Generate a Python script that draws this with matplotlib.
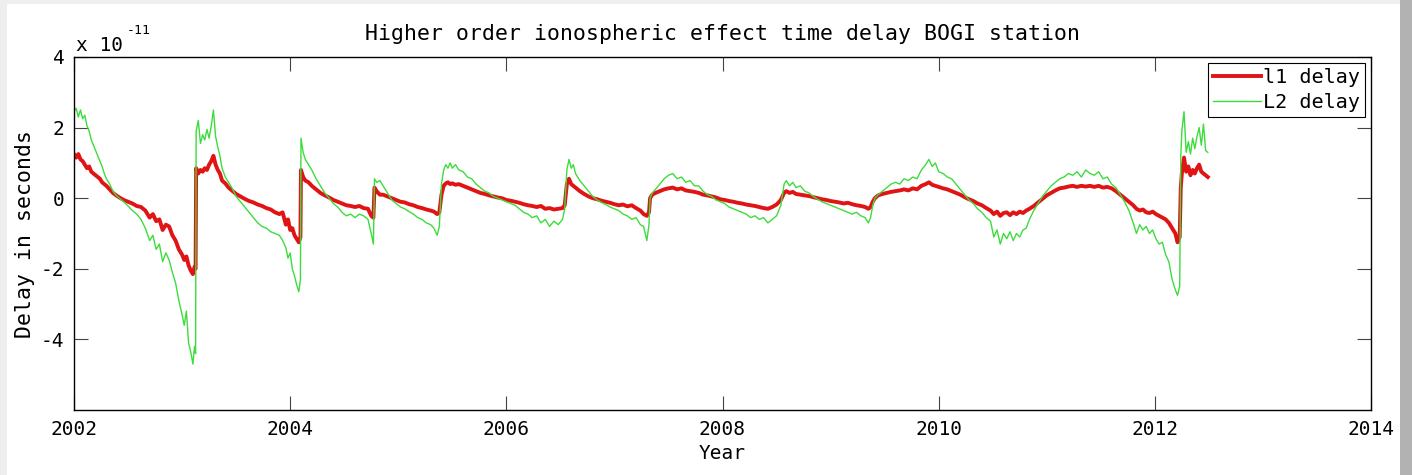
import numpy as np
import matplotlib
matplotlib.use("Agg")
import matplotlib.pyplot as plt
from matplotlib.patches import Rectangle

# values (delay in units of 1e-11 s)
year = [
    2002.00, 2002.02, 2002.04, 2002.06, 2002.08, 2002.10, 2002.12, 2002.14, 2002.16, 2002.18,
    2002.20, 2002.22, 2002.24, 2002.26, 2002.28, 2002.30, 2002.33, 2002.36, 2002.39, 2002.42,
    2002.46, 2002.50, 2002.54, 2002.58, 2002.62, 2002.66, 2002.70, 2002.73, 2002.76, 2002.79,
    2002.82, 2002.85, 2002.88, 2002.91, 2002.94, 2002.97, 2003.00, 2003.02, 2003.04, 2003.06,
    2003.08, 2003.10, 2003.115, 2003.125,
    2003.13, 2003.15, 2003.17, 2003.19, 2003.21, 2003.23, 2003.25, 2003.27, 2003.29, 2003.31,
    2003.33, 2003.35, 2003.37, 2003.40, 2003.43, 2003.46, 2003.50, 2003.54, 2003.58, 2003.62,
    2003.66, 2003.70, 2003.74, 2003.78, 2003.82, 2003.86, 2003.90, 2003.93, 2003.96, 2003.98,
    2004.00, 2004.02, 2004.04, 2004.06, 2004.08, 2004.095,
    2004.10, 2004.12, 2004.14, 2004.17, 2004.20, 2004.24, 2004.28, 2004.32, 2004.36, 2004.40,
    2004.44, 2004.48, 2004.52, 2004.56, 2004.60, 2004.64, 2004.68, 2004.72, 2004.75, 2004.77,
    2004.78, 2004.80, 2004.83, 2004.86, 2004.90, 2004.94, 2004.98, 2005.02, 2005.06, 2005.10,
    2005.14, 2005.18, 2005.22, 2005.26, 2005.30, 2005.33, 2005.36,
    2005.38, 2005.40, 2005.42, 2005.44,
    2005.46, 2005.48, 2005.50, 2005.53, 2005.56, 2005.60, 2005.64, 2005.68, 2005.72, 2005.76,
    2005.80, 2005.84, 2005.88, 2005.92, 2005.96, 2006.00, 2006.04, 2006.08, 2006.12, 2006.16,
    2006.20, 2006.24, 2006.28, 2006.32, 2006.36, 2006.40, 2006.44, 2006.48, 2006.52, 2006.54,
    2006.56, 2006.58, 2006.60, 2006.62, 2006.64, 2006.68, 2006.72, 2006.76, 2006.80, 2006.84,
    2006.88, 2006.92, 2006.96, 2007.00, 2007.04, 2007.08, 2007.12, 2007.16, 2007.20, 2007.24,
    2007.27, 2007.30, 2007.32,
    2007.33, 2007.35, 2007.38, 2007.42, 2007.46, 2007.50, 2007.54, 2007.58, 2007.62, 2007.66,
    2007.70, 2007.74, 2007.78, 2007.82, 2007.86, 2007.90, 2007.94, 2007.98, 2008.02, 2008.06,
    2008.10, 2008.14, 2008.18, 2008.22, 2008.26, 2008.30, 2008.34, 2008.38, 2008.42, 2008.46,
    2008.50, 2008.54,
    2008.57, 2008.59, 2008.62, 2008.65, 2008.68, 2008.72, 2008.76, 2008.80, 2008.84, 2008.88,
    2008.92, 2008.96, 2009.00, 2009.04, 2009.08, 2009.12, 2009.16, 2009.20, 2009.24, 2009.28,
    2009.32, 2009.35, 2009.37, 2009.39, 2009.41, 2009.44,
    2009.48, 2009.52, 2009.56, 2009.60, 2009.64, 2009.68, 2009.72, 2009.76, 2009.80, 2009.84,
    2009.88, 2009.91, 2009.94, 2009.97, 2010.00, 2010.04, 2010.08, 2010.12, 2010.16, 2010.20,
    2010.24, 2010.28, 2010.32, 2010.36, 2010.40, 2010.44, 2010.48, 2010.51, 2010.54, 2010.57,
    2010.60, 2010.63, 2010.66, 2010.69, 2010.72, 2010.75, 2010.78, 2010.81, 2010.84, 2010.88,
    2010.92, 2010.96, 2011.00, 2011.04, 2011.08, 2011.12, 2011.16, 2011.20, 2011.24, 2011.28,
    2011.32, 2011.36, 2011.40, 2011.44, 2011.48, 2011.52, 2011.56, 2011.60, 2011.64, 2011.68,
    2011.72, 2011.76, 2011.80, 2011.83, 2011.86, 2011.89, 2011.92, 2011.95, 2011.98, 2012.01,
    2012.04, 2012.07, 2012.10, 2012.13, 2012.16, 2012.19, 2012.21, 2012.23,
    2012.24, 2012.25, 2012.27, 2012.29, 2012.31, 2012.33, 2012.35, 2012.37, 2012.39, 2012.41,
    2012.43, 2012.45, 2012.47, 2012.49,
]

l1_delay = [
    1.25, 1.15, 1.25, 1.10, 1.05, 0.95, 0.85, 0.90, 0.75, 0.70,
    0.65, 0.60, 0.55, 0.45, 0.40, 0.35, 0.25, 0.15, 0.08, 0.02,
    -0.05, -0.10, -0.15, -0.22, -0.25, -0.35, -0.55, -0.45, -0.65, -0.60,
    -0.90, -0.75, -0.80, -1.05, -1.20, -1.45, -1.60, -1.75, -1.65, -1.90,
    -2.05, -2.15, -1.95, -2.00,
    0.85, 0.70, 0.80, 0.75, 0.85, 0.80, 0.95, 1.05, 1.20, 0.95,
    0.80, 0.70, 0.50, 0.42, 0.30, 0.22, 0.12, 0.05, -0.02, -0.08,
    -0.12, -0.18, -0.22, -0.28, -0.32, -0.40, -0.45, -0.40, -0.75, -0.60,
    -0.90, -0.85, -1.05, -1.15, -1.25, -1.10,
    0.80, 0.60, 0.50, 0.45, 0.35, 0.25, 0.15, 0.08, 0.02, -0.05,
    -0.10, -0.15, -0.20, -0.22, -0.25, -0.22, -0.28, -0.30, -0.50, -0.55,
    0.30, 0.20, 0.10, 0.10, 0.05, 0.00, -0.05, -0.10, -0.12, -0.17,
    -0.20, -0.25, -0.28, -0.32, -0.35, -0.38, -0.45,
    -0.40, 0.10, 0.35, 0.42,
    0.45, 0.40, 0.42, 0.38, 0.40, 0.35, 0.30, 0.25, 0.20, 0.15,
    0.12, 0.08, 0.05, 0.02, 0.00, -0.05, -0.07, -0.10, -0.13, -0.17,
    -0.20, -0.22, -0.25, -0.22, -0.30, -0.28, -0.32, -0.30, -0.28, -0.20,
    0.40, 0.55, 0.40, 0.35, 0.30, 0.20, 0.12, 0.05, 0.00, -0.03,
    -0.07, -0.10, -0.13, -0.17, -0.20, -0.18, -0.23, -0.20, -0.28, -0.35,
    -0.45, -0.50, -0.40,
    0.00, 0.10, 0.15, 0.20, 0.25, 0.28, 0.30, 0.25, 0.28, 0.22,
    0.20, 0.18, 0.15, 0.10, 0.08, 0.05, 0.02, -0.03, -0.05, -0.08,
    -0.10, -0.13, -0.15, -0.18, -0.20, -0.22, -0.25, -0.28, -0.30, -0.25,
    -0.18, -0.05,
    0.15, 0.20, 0.15, 0.18, 0.12, 0.10, 0.08, 0.06, 0.03, 0.00,
    -0.03, -0.05, -0.08, -0.10, -0.12, -0.15, -0.13, -0.17, -0.20, -0.22,
    -0.25, -0.30, -0.25, -0.10, 0.00, 0.08,
    0.12, 0.15, 0.18, 0.20, 0.22, 0.25, 0.22, 0.28, 0.25, 0.35,
    0.40, 0.45, 0.38, 0.35, 0.32, 0.28, 0.25, 0.20, 0.15, 0.10,
    0.03, -0.03, -0.08, -0.15, -0.20, -0.28, -0.35, -0.45, -0.38, -0.50,
    -0.42, -0.40, -0.48, -0.40, -0.45, -0.38, -0.42, -0.35, -0.30, -0.22,
    -0.12, -0.02, 0.08, 0.15, 0.22, 0.28, 0.30, 0.33, 0.35, 0.32,
    0.35, 0.33, 0.35, 0.32, 0.35, 0.30, 0.32, 0.28, 0.20, 0.10,
    0.00, -0.10, -0.20, -0.30, -0.35, -0.32, -0.40, -0.42, -0.38, -0.45,
    -0.50, -0.55, -0.60, -0.70, -0.85, -1.00, -1.25, -1.10,
    0.30, 0.70, 1.15, 0.75, 0.90, 0.65, 0.80, 0.70, 0.85, 0.95,
    0.75, 0.70, 0.65, 0.60,
]

l2_delay = [
    2.45, 2.55, 2.30, 2.50, 2.25, 2.35, 2.05, 1.90, 1.65, 1.50,
    1.35, 1.20, 1.05, 0.90, 0.70, 0.55, 0.40, 0.20, 0.08, 0.00,
    -0.10, -0.22, -0.35, -0.45, -0.60, -0.85, -1.20, -1.05, -1.45, -1.30,
    -1.80, -1.55, -1.75, -2.10, -2.40, -2.90, -3.30, -3.60, -3.20, -4.10,
    -4.35, -4.70, -4.20, -4.40,
    1.90, 2.20, 1.55, 1.80, 1.65, 1.95, 1.70, 2.05, 2.50, 1.75,
    1.45, 1.20, 0.85, 0.60, 0.45, 0.30, 0.05, -0.10, -0.25, -0.40,
    -0.55, -0.70, -0.80, -0.85, -0.95, -1.00, -1.05, -1.20, -1.40, -1.70,
    -1.55, -2.00, -2.20, -2.45, -2.65, -2.30,
    1.70, 1.30, 1.10, 0.95, 0.80, 0.55, 0.35, 0.15, 0.00, -0.15,
    -0.25, -0.40, -0.50, -0.45, -0.55, -0.45, -0.50, -0.60, -1.00, -1.30,
    0.55, 0.45, 0.50, 0.35, 0.15, -0.05, -0.15, -0.25, -0.30, -0.38,
    -0.45, -0.55, -0.60, -0.70, -0.75, -0.85, -1.05,
    -0.80, 0.40, 0.80, 0.95,
    0.85, 1.00, 0.85, 0.95, 0.80, 0.75, 0.60, 0.55, 0.40, 0.30,
    0.20, 0.15, 0.05, 0.00, -0.05, -0.10, -0.15, -0.20, -0.30, -0.40,
    -0.45, -0.55, -0.50, -0.70, -0.60, -0.80, -0.65, -0.75, -0.60, -0.30,
    0.80, 1.10, 0.85, 0.95, 0.70, 0.50, 0.35, 0.20, 0.05, -0.05,
    -0.12, -0.18, -0.25, -0.30, -0.35, -0.45, -0.50, -0.60, -0.55, -0.75,
    -0.80, -1.20, -0.75,
    0.00, 0.15, 0.25, 0.40, 0.55, 0.65, 0.70, 0.55, 0.60, 0.45,
    0.50, 0.35, 0.35, 0.20, 0.10, 0.05, -0.05, -0.10, -0.15, -0.25,
    -0.30, -0.35, -0.40, -0.45, -0.55, -0.50, -0.60, -0.55, -0.70, -0.60,
    -0.50, -0.20,
    0.40, 0.50, 0.35, 0.45, 0.30, 0.35, 0.20, 0.15, 0.05, -0.03,
    -0.10, -0.15, -0.20, -0.25, -0.30, -0.35, -0.40, -0.45, -0.40, -0.50,
    -0.55, -0.70, -0.55, -0.20, 0.00, 0.10,
    0.20, 0.30, 0.40, 0.45, 0.40, 0.55, 0.50, 0.60, 0.55, 0.80,
    0.95, 1.10, 0.90, 1.00, 0.75, 0.70, 0.60, 0.55, 0.40, 0.25,
    0.10, -0.05, -0.15, -0.30, -0.40, -0.55, -0.65, -1.10, -0.90, -1.30,
    -1.00, -1.15, -0.95, -1.20, -1.00, -1.10, -0.90, -0.85, -0.60, -0.35,
    -0.15, 0.05, 0.20, 0.35, 0.45, 0.55, 0.60, 0.70, 0.65, 0.75,
    0.60, 0.80, 0.70, 0.65, 0.75, 0.55, 0.60, 0.40, 0.30, 0.10,
    -0.10, -0.35, -0.70, -1.00, -0.75, -0.90, -0.80, -1.00, -0.90, -1.15,
    -1.30, -1.25, -1.60, -1.80, -2.30, -2.60, -2.75, -2.50,
    1.20, 1.90, 2.45, 1.30, 1.60, 1.25, 1.70, 1.40, 1.75, 2.00,
    1.50, 2.10, 1.35, 1.30,
]

x_ticks = [2002, 2004, 2006, 2008, 2010, 2012, 2014]
y_ticks = [-4, -2, 0, 2, 4]

mono = "DejaVu Sans Mono"
plt.rcParams["font.family"] = mono
plt.rcParams["axes.unicode_minus"] = False

W, H = 1412, 475
fig = plt.figure(figsize=(W / 100, H / 100), dpi=100, facecolor="#eeeeee")
# white page with a grey drop shadow on the right
fig.patches.append(Rectangle((7 / W, 0), (1400 - 7) / W, 1 - 4 / H,
                             transform=fig.transFigure, facecolor="white",
                             edgecolor="none", zorder=-2))
fig.patches.append(Rectangle((1400 / W, 0), 12 / W, 1, transform=fig.transFigure,
                             facecolor="#b2b2b2", edgecolor="none", zorder=-2))

ax = fig.add_axes([74 / W, 1 - 410 / H, 1297 / W, 353 / H])
ax.plot(year, l1_delay, color="#e01414", lw=2.8, label="l1 delay")
ax.plot(year, l2_delay, color="#3ddc3d", lw=1.0, label="L2 delay")

ax.set_xlim(2002, 2014)
ax.set_ylim(-6, 4)
ax.set_xticks(x_ticks)
ax.set_yticks(y_ticks)
ax.tick_params(direction="in", top=True, right=True, length=10, width=0.8,
               color="#444444", labelsize=14, pad=7)
for s in ax.spines.values():
    s.set_linewidth(1.0)

ax.set_title("Higher order ionospheric effect time delay BOGI station",
             fontsize=15.5, pad=12)
ax.set_xlabel("Year", fontsize=14, labelpad=4)
ax.set_ylabel("Delay in seconds", fontsize=15.5, labelpad=4)

fig.text(76 / W, 1 - 51 / H, "x 10", fontsize=14)
fig.text(127 / W, 1 - 34 / H, "-11", fontsize=9.5)

leg = ax.legend(loc="upper right", fontsize=14.5, frameon=True, fancybox=False,
                edgecolor="black", framealpha=1, handlelength=2.4,
                handletextpad=0.1, borderpad=0.25, labelspacing=0.3,
                borderaxespad=0.3)
leg.get_frame().set_linewidth(0.8)

fig.savefig("out.png", dpi=100, facecolor=fig.get_facecolor())
